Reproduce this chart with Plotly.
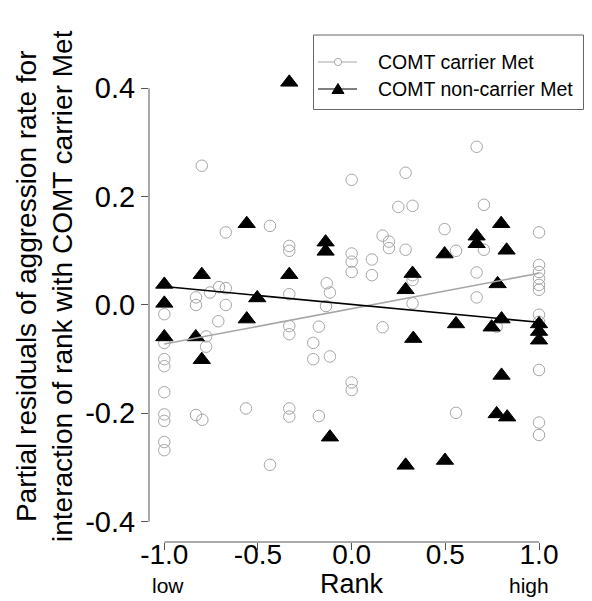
import plotly.graph_objects as go

# ---------------- data ----------------
carrier_rank = [
    -0.80, 0.0, -0.436, -0.672, -0.333, -0.333, 0.0, 0.0, 0.0, -0.133,
    -0.116, -0.333, -0.756, -0.708, -0.672, -0.831, -0.831, -0.672, -1.0, -0.712,
    -1.0, -0.777, -0.777, -1.0, -1.0, -1.0, -0.564, -1.0, -1.0, -0.831,
    -0.797, -1.0, -1.0, -0.137, -0.333, -0.333, -0.175, -0.205, -0.205, -0.116,
    0.0, 0.0, -0.333, -0.333, -0.175, -0.436, 0.288, 0.249, 0.325, 0.496,
    0.165, 0.199, 0.199, 0.288, 0.557, 0.108, 0.108, 0.325, 0.325, 0.325,
    0.667, 0.706, 1.0, 0.706, 0.667, 1.0, 1.0, 1.0, 1.0, 1.0,
    0.667, 1.0, 1.0, 0.774, 1.0, 1.0, 1.0, 0.165, 0.557,
]
carrier_resid = [
    0.257, 0.231, 0.146, 0.134, 0.109, 0.100, 0.095, 0.080, 0.061, 0.040,
    0.023, 0.020, 0.023, 0.033, 0.031, 0.014, 0.000, 0.000, -0.017, -0.030,
    -0.070, -0.058, -0.077, -0.100, -0.113, -0.161, -0.191, -0.202, -0.214, -0.203,
    -0.212, -0.253, -0.268, -0.002, -0.039, -0.054, -0.040, -0.070, -0.100, -0.095,
    -0.143, -0.157, -0.191, -0.206, -0.205, -0.295, 0.244, 0.181, 0.183, 0.140,
    0.128, 0.117, 0.105, 0.102, 0.100, 0.084, 0.055, 0.055, 0.046, 0.003,
    0.292, 0.185, 0.134, 0.102, 0.060, 0.074, 0.061, 0.049, 0.037, 0.028,
    0.014, -0.018, -0.031, -0.040, -0.120, -0.217, -0.240, -0.041, -0.199,
]
noncarrier_rank = [
    -0.333, -0.56, -0.139, -0.139, -0.80, -0.333, -1.0, -0.504, -1.0, -0.56,
    -1.0, -0.832, -0.80, -0.116, 0.325, 0.288, 0.496, 0.798, 0.667, 0.667,
    0.827, 0.779, 0.80, 0.747, 1.0, 1.0, 1.0, 0.80, 0.774, 0.830,
    0.557, 0.329, 0.288, 0.498,
]
noncarrier_resid = [
    0.411, 0.150, 0.116, 0.099, 0.056, 0.056, 0.038, 0.013, 0.003, -0.026,
    -0.059, -0.059, -0.101, -0.244, 0.058, 0.028, 0.094, 0.150, 0.127, 0.113,
    0.101, 0.039, -0.026, -0.041, -0.035, -0.049, -0.065, -0.130, -0.201, -0.207,
    -0.035, -0.062, -0.296, -0.287,
]
fit_rank = [-1.0, 1.0]
carrier_fit = [-0.072, 0.0585]
noncarrier_fit = [0.034, -0.032]

x_ticks = [-1.0, -0.5, 0.0, 0.5, 1.0]
x_tick_labels = ["-1.0", "-0.5", "0.0", "0.5", "1.0"]
y_ticks = [-0.4, -0.2, 0.0, 0.2, 0.4]
y_tick_labels = ["-0.4", "-0.2", "0.0", "0.2", "0.4"]
legend_labels = ["COMT carrier Met", "COMT non-carrier Met"]
x_title = "Rank"
x_low, x_high = "low", "high"
y_title = "Partial residuals of aggression rate for<br>interaction of rank with COMT carrier Met"

# ---------------- layout geometry ----------------
W, H = 592, 601
L, R, T, B = 149, 8, 34, 59
PW, PH = W - L - R, H - T - B
FONT = "Liberation Sans, Arial, sans-serif"
GRAY = "#a6a6a6"
AXC = "#555555"


def px(x):
    return (x - L) / PW


def py(y):
    return (H - B - y) / PH


fig = go.Figure()

fig.add_trace(go.Scatter(
    x=carrier_rank, y=carrier_resid, mode="markers", showlegend=False,
    marker=dict(symbol="circle-open", size=11.5, color=GRAY, line=dict(width=1, color=GRAY)),
))
fig.add_trace(go.Scatter(
    x=noncarrier_rank, y=noncarrier_resid, mode="markers", showlegend=False,
    marker=dict(symbol="triangle-up", size=15, color="black", line=dict(width=1, color="black")),
))
fig.add_trace(go.Scatter(
    x=fit_rank, y=carrier_fit, mode="lines", showlegend=False,
    line=dict(color=GRAY, width=1.6),
))
fig.add_trace(go.Scatter(
    x=fit_rank, y=noncarrier_fit, mode="lines", showlegend=False,
    line=dict(color="black", width=1.6),
))

shapes = []
# R-style axis lines that span only the tick range
shapes.append(dict(type="line", xref="paper", yref="y", x0=0, x1=0,
                   y0=min(y_ticks), y1=max(y_ticks), line=dict(color=AXC, width=1)))
shapes.append(dict(type="line", xref="x", yref="paper", x0=min(x_ticks), x1=max(x_ticks),
                   y0=0, y1=0, line=dict(color=AXC, width=1)))

# legend drawn by hand
shapes.append(dict(type="rect", xref="paper", yref="paper",
                   x0=px(313.5), x1=px(583.5), y0=py(109.5), y1=py(35),
                   line=dict(color="#666666", width=1), fillcolor="rgba(0,0,0,0)"))
rows = [62.0, 89.0]
shapes.append(dict(type="line", xref="paper", yref="paper", x0=px(318), x1=px(357),
                   y0=py(rows[0]), y1=py(rows[0]), line=dict(color=GRAY, width=1)))
shapes.append(dict(type="circle", xref="paper", yref="paper",
                   x0=px(334.4), x1=px(341.6), y0=py(rows[0] + 3.6), y1=py(rows[0] - 3.6),
                   line=dict(color=GRAY, width=1), fillcolor="white"))
shapes.append(dict(type="line", xref="paper", yref="paper", x0=px(318), x1=px(357),
                   y0=py(rows[1]), y1=py(rows[1]), line=dict(color="black", width=1)))
tri = [(332, rows[1] + 4.5), (344, rows[1] + 4.5), (338, rows[1] - 5.5)]
path = "M{:.5f},{:.5f} L{:.5f},{:.5f} L{:.5f},{:.5f} Z".format(
    px(tri[0][0]), py(tri[0][1]), px(tri[1][0]), py(tri[1][1]), px(tri[2][0]), py(tri[2][1]))
shapes.append(dict(type="path", xref="paper", yref="paper", path=path,
                   fillcolor="black", line=dict(color="black", width=1)))

annotations = []
for lab, ry in zip(legend_labels, rows):
    annotations.append(dict(text=lab, xref="paper", yref="paper", x=px(376), y=py(ry),
                            xanchor="left", yanchor="middle", showarrow=False,
                            font=dict(family=FONT, size=19.5, color="black")))
annotations.append(dict(text=x_title, xref="paper", yref="paper", x=px(351.7), y=py(584),
                        xanchor="center", yanchor="middle", showarrow=False,
                        font=dict(family=FONT, size=27, color="black")))
annotations.append(dict(text=x_low, xref="paper", yref="paper", x=px(168), y=py(585),
                        xanchor="center", yanchor="middle", showarrow=False,
                        font=dict(family=FONT, size=21, color="black")))
annotations.append(dict(text=x_high, xref="paper", yref="paper", x=px(528.5), y=py(585),
                        xanchor="center", yanchor="middle", showarrow=False,
                        font=dict(family=FONT, size=21, color="black")))
annotations.append(dict(text=y_title, xref="paper", yref="paper", x=px(44), y=py(286),
                        xanchor="center", yanchor="middle", showarrow=False, textangle=-90,
                        font=dict(family=FONT, size=28, color="black")))

fig.update_layout(
    width=W, height=H,
    margin=dict(l=L, r=R, t=T, b=B, pad=0),
    paper_bgcolor="white", plot_bgcolor="white",
    showlegend=False,
    shapes=shapes, annotations=annotations,
    font=dict(family=FONT, color="black"),
)
fig.update_xaxes(range=[-1.0817, 1.2401], tickvals=x_ticks, ticktext=x_tick_labels,
                 ticks="outside", ticklen=7, tickcolor=AXC, tickwidth=1,
                 ticklabelstandoff=-20,
                 showline=False, showgrid=False, zeroline=False,
                 tickfont=dict(family=FONT, size=28, color="black"))
fig.update_yaxes(range=[-0.4375, 0.5002], tickvals=y_ticks, ticktext=y_tick_labels,
                 ticks="outside", ticklen=7, tickcolor=AXC, tickwidth=1,
                 showline=False, showgrid=False, zeroline=False,
                 tickfont=dict(family=FONT, size=29, color="black"))

fig.write_html("out.html")
